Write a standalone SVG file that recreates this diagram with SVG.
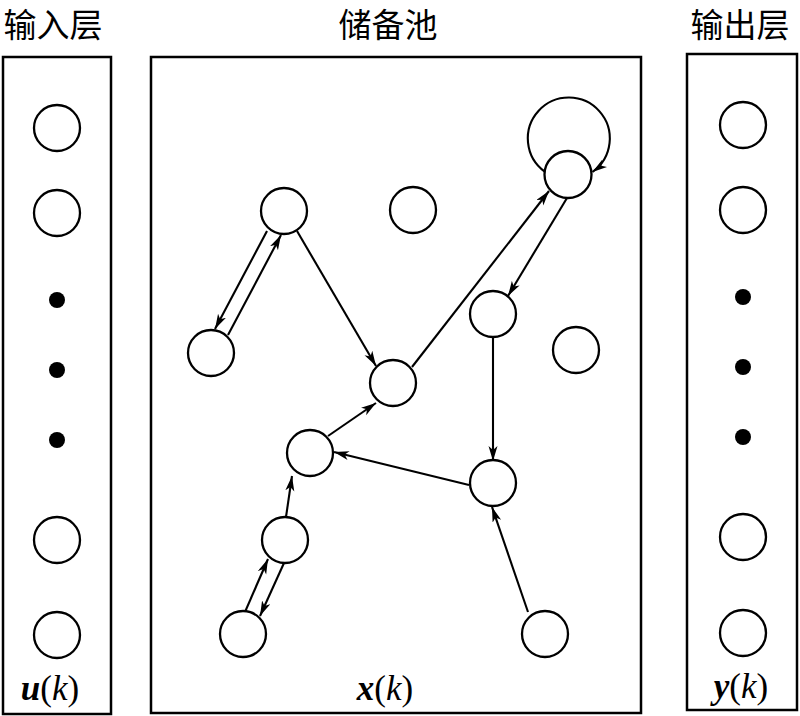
<svg xmlns="http://www.w3.org/2000/svg" width="800" height="716" viewBox="0 0 800 716">
<style>
.box{fill:none;stroke:#000;stroke-width:2.5}
.n{fill:#fff;stroke:#000;stroke-width:2.3}
.dot{fill:#000}
.e{fill:none;stroke:#000;stroke-width:2.1;marker-end:url(#ah)}
.cjk{font-family:"Noto Sans CJK SC","Noto Sans CJK JP",sans-serif;font-size:33px;fill:#000}
.var{font-family:"Liberation Serif","Times New Roman",serif;font-size:35px;font-style:italic;fill:#000}
.b{font-weight:bold}
.r{font-style:normal}
</style>
<defs>
<marker id="ah" markerUnits="userSpaceOnUse" markerWidth="17" markerHeight="10" refX="15" refY="4.5" orient="auto">
<path d="M0,0 L15,4.5 L0,9 L4,4.5 Z" fill="#000"/>
</marker>
</defs>

<g id="labels">
<text class="cjk" x="53" y="37" text-anchor="middle">输入层</text>
<text class="cjk" x="388" y="37" text-anchor="middle">储备池</text>
<text class="cjk" x="740" y="37" text-anchor="middle">输出层</text>
</g>

<g id="input-layer">
<rect class="box" x="3" y="57" width="108" height="657"/>
<circle class="n" cx="57" cy="128" r="23"/>
<circle class="n" cx="57" cy="213" r="23"/>
<circle class="dot" cx="57" cy="300" r="8"/>
<circle class="dot" cx="57" cy="370" r="8"/>
<circle class="dot" cx="57" cy="440" r="8"/>
<circle class="n" cx="57" cy="540" r="23"/>
<circle class="n" cx="57" cy="635" r="23"/>
<text class="var" x="50" y="700" text-anchor="middle"><tspan class="b">u</tspan><tspan class="r">(</tspan>k<tspan class="r">)</tspan></text>
</g>

<g id="reservoir">
<rect class="box" x="151" y="57" width="490" height="656"/>
<text class="var" x="385" y="700" text-anchor="middle"><tspan class="b">x</tspan><tspan class="r">(</tspan>k<tspan class="r">)</tspan></text>
</g>

<g id="output-layer">
<rect class="box" x="687" y="54" width="110" height="656"/>
<circle class="n" cx="743" cy="125" r="23"/>
<circle class="n" cx="743" cy="210" r="23"/>
<circle class="dot" cx="743" cy="297" r="8"/>
<circle class="dot" cx="743" cy="367" r="8"/>
<circle class="dot" cx="743" cy="437" r="8"/>
<circle class="n" cx="743" cy="537" r="23"/>
<circle class="n" cx="743" cy="633" r="23"/>
<text class="var" x="741" y="698" text-anchor="middle"><tspan class="b">y</tspan><tspan class="r">(</tspan>k<tspan class="r">)</tspan></text>
</g>

<g id="connectors">
<line class="e" x1="267" y1="231" x2="215" y2="329"/>
<line class="e" x1="228" y1="335" x2="281" y2="235"/>
<line class="e" x1="297" y1="231" x2="376" y2="366"/>
<line class="e" x1="412" y1="367" x2="549" y2="191"/>
<line class="e" x1="567" y1="198" x2="508" y2="296"/>
<line class="e" x1="493" y1="338" x2="493" y2="461"/>
<line class="e" x1="469" y1="485" x2="334" y2="452"/>
<line class="e" x1="328" y1="436" x2="376" y2="403"/>
<line class="e" x1="286" y1="517" x2="292" y2="476"/>
<line class="e" x1="245" y1="612" x2="268" y2="559"/>
<line class="e" x1="284" y1="563" x2="260" y2="616"/>
<line class="e" x1="528" y1="612" x2="492" y2="507"/>
<path class="e" d="M544.7,171.7 A41,41 0 1,1 592.5,172"/>
</g>

<g id="node-A"><circle class="n" cx="284" cy="211" r="23"/></g>
<g id="node-B"><circle class="n" cx="413" cy="210" r="23"/></g>
<g id="node-C"><circle class="n" cx="568" cy="174.5" r="23.5"/></g>
<g id="node-D"><circle class="n" cx="493" cy="314" r="23"/></g>
<g id="node-E"><circle class="n" cx="211" cy="353" r="23"/></g>
<g id="node-F"><circle class="n" cx="576" cy="350" r="23"/></g>
<g id="node-G"><circle class="n" cx="393" cy="383" r="23"/></g>
<g id="node-H"><circle class="n" cx="310" cy="453" r="23"/></g>
<g id="node-I"><circle class="n" cx="493" cy="483" r="23"/></g>
<g id="node-J"><circle class="n" cx="285" cy="540" r="23"/></g>
<g id="node-K"><circle class="n" cx="243" cy="634" r="23"/></g>
<g id="node-L"><circle class="n" cx="545" cy="634" r="23"/></g>
</svg>
